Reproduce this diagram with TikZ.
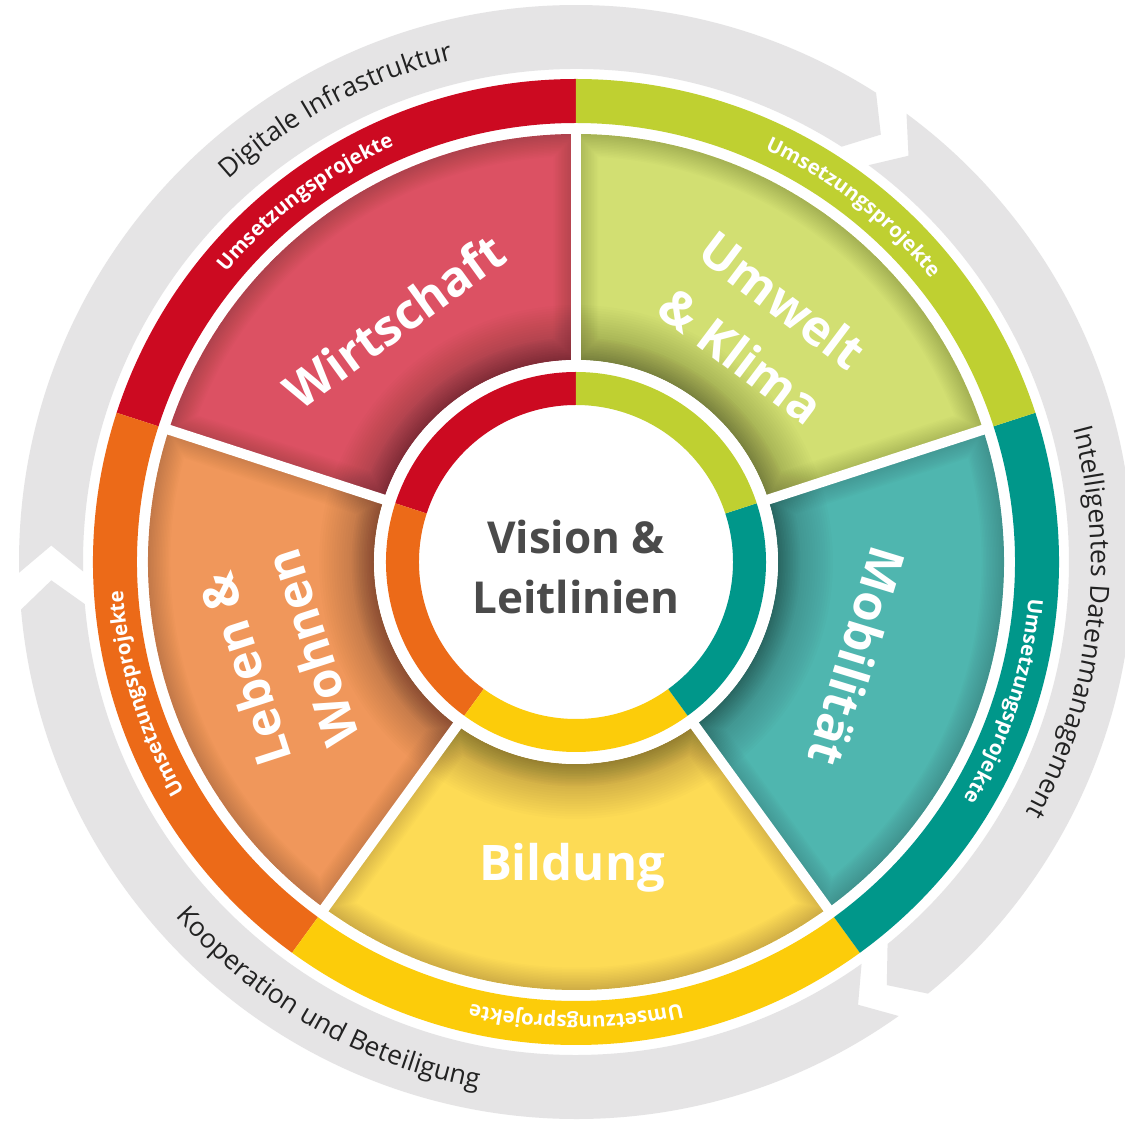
\documentclass[tikz,border=0pt]{standalone}
\usepackage{fontspec}
\setmainfont{Open Sans}
\usetikzlibrary{decorations.text}
\definecolor{cRed}{HTML}{CC0A21}
\definecolor{cGreen}{HTML}{BFD031}
\definecolor{cTeal}{HTML}{00978A}
\definecolor{cYellow}{HTML}{FCCC0A}
\definecolor{cOrange}{HTML}{EC6A18}
\definecolor{sRed}{HTML}{DC5163}
\definecolor{sGreen}{HTML}{D2DF72}
\definecolor{sTeal}{HTML}{4FB6AF}
\definecolor{sYellow}{HTML}{FDDB55}
\definecolor{sOrange}{HTML}{F0975B}
\definecolor{grayring}{HTML}{E5E4E5}
\definecolor{txtgray}{HTML}{222222}
\definecolor{centergray}{HTML}{4A4A4A}
\newcommand\graypiece[2]{%
  \fill[grayring] ({#1-0.4}:557) arc[start angle={#1-0.4}, end angle={#2+3.4}, radius=557]
    -- ({#2+0.5}:525) -- ({#2+3.4}:493)
    arc[start angle={#2+3.4}, end angle={#1-0.4}, radius=493]
    -- ({#1-3.3}:525) -- cycle;}
\newcommand\ringpiece[5]{% a, b, rin, rout, color
  \fill[#5] (#1:#4) arc[start angle=#1, end angle=#2, radius=#4]
    -- (#2:#3) arc[start angle=#2, end angle=#1, radius=#3] -- cycle;}
\newcommand\drawseg[3]{%
  \begin{scope}
    \clip (#1:202) -- (#1:428) arc[start angle=#1, end angle=#2, radius=428]
      -- (#2:202) arc[start angle=#2, end angle=#1, radius=202] -- cycle;
    \fill[#3] (0,0) circle (430);
    \foreach \w in {3,6,...,45}{
      \draw[black, opacity=0.013, line width=\w pt] (#1:202) -- (#1:428)
        arc[start angle=#1, end angle=#2, radius=428]
        -- (#2:202) arc[start angle=#2, end angle=#1, radius=202] -- cycle;}
    \foreach \w in {5,10,...,110}{
      \draw[black, opacity=0.011, line width=\w pt] (0,0) circle (202);}
  \end{scope}}
\newcommand\umsfont{\fontsize{20.5}{20.5}\selectfont\bfseries}
\newcommand\grfont{\fontsize{26.5}{26.5}\selectfont}
\tikzset{
  lab/.style={text=white, font=\fontsize{49}{70}\selectfont\bfseries, align=center, inner sep=0pt},
  umstext/.style={decorate, decoration={text along path, text align=center, text color=white,
      text={|\umsfont|Umsetzungsprojekte}}},
  grtext/.style={decorate, decoration={text along path, text align=center, text color=txtgray,
      text={|\grfont|#1}}},
}
\begin{document}
\begin{tikzpicture}[x=1pt,y=1pt]
\useasboundingbox (-576,-559) rectangle (549,562);
\fill[white] (-576,-559) rectangle (549,562);

% outer gray arrow ring
\graypiece{181.5}{54}
\graypiece{54}{-54.2}
\graypiece{305.8}{181.5}

% outer coloured ring
\ringpiece{90}{162}{439}{483}{cRed}
\ringpiece{162}{234}{439}{483}{cOrange}
\ringpiece{234}{306}{439}{483}{cYellow}
\ringpiece{-54}{18}{439}{483}{cTeal}
\ringpiece{18}{90}{439}{483}{cGreen}

% segments
\drawseg{90}{162}{sRed}
\drawseg{162}{234}{sOrange}
\drawseg{234}{306}{sYellow}
\drawseg{-54}{18}{sTeal}
\drawseg{18}{90}{sGreen}
\foreach \a in {18,90,162,234,306}{\draw[white, line width=10pt] (0,0) -- (\a:434);}
\fill[white] (0,0) circle (202);

% inner ring
\ringpiece{90}{162}{157}{190}{cRed}
\ringpiece{162}{234}{157}{190}{cOrange}
\ringpiece{234}{306}{157}{190}{cYellow}
\ringpiece{-54}{18}{157}{190}{cTeal}
\ringpiece{18}{90}{157}{190}{cGreen}

% ring texts
\path[umstext] (152:454) arc[start angle=152, end angle=102, radius=454];
\path[umstext] (77:454) arc[start angle=77, end angle=27, radius=454];
\path[umstext] (7:454) arc[start angle=7, end angle=-43, radius=454];
\path[umstext] (295:454) arc[start angle=295, end angle=245, radius=454];
\path[umstext] (222:454) arc[start angle=222, end angle=172, radius=454];

% gray ring texts
\path[grtext={Digitale Infrastruktur}]
  (148:517) arc[start angle=148, end angle=88, radius=517];
\path[grtext={Intelligentes Datenmanagement}]
  (29:515) arc[start angle=29, end angle=-43, radius=515];
\path[grtext={Kooperation und Beteiligung}]
  (204:535) arc[start angle=204, end angle=277, radius=535];

% segment labels
\node[lab, rotate=36] (wirt) at (127:302) {Wirtschaft};
\node[lab, rotate=-37] (umw) at (51.5:299) {Umwelt\\\& Klima};
\node[lab, rotate=-107] (mob) at (-18.6:297) {Mobilität};
\node[lab] (bild) at (-4,-306) {Bildung};
\node[lab, rotate=108] (leben) at (-298,-97) {Leben \&\\Wohnen};

% centre
\node[font=\fontsize{44}{60}\selectfont\bfseries, text=centergray, align=center] (vision) at (0,-5) {Vision \&\\Leitlinien};
\end{tikzpicture}
\end{document}
